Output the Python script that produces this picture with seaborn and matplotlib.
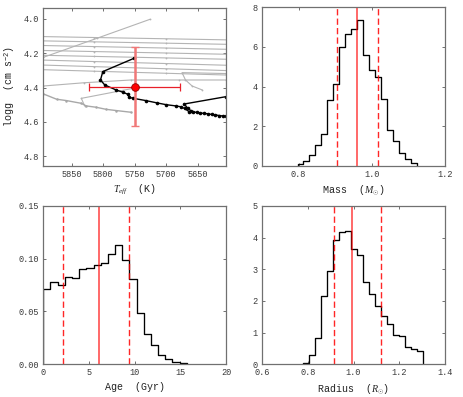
import numpy as np
import pandas as pd
import matplotlib
matplotlib.use("Agg")
import matplotlib.pyplot as plt
import seaborn as sns

# ---------------- data ----------------
# stellar evolution track (black) in Teff / logg
track_teff = [5750.8, 5800.6, 5804.3, 5797.5, 5779.6, 5768, 5761.3, 5758.7, 5753.4, 5732.4,
              5714, 5700, 5685, 5677, 5671, 5664, 5658, 5652, 5646, 5640, 5634, 5628,
              5622, 5616, 5610, 5605]
track_logg = [4.229, 4.307, 4.356, 4.385, 4.414, 4.428, 4.439, 4.457, 4.462, 4.476,
              4.490, 4.500, 4.507, 4.512, 4.522, 4.540, 4.541, 4.545, 4.548, 4.551, 4.553, 4.557,
              4.560, 4.563, 4.566, 4.568]
branch_teff = [5605, 5671.6, 5666, 5660]
branch_logg = [4.453, 4.496, 4.520, 4.538]

# grey tracks
grey_h_left = [4.103, 4.128, 4.155, 4.184, 4.212, 4.240, 4.269, 4.296]
grey_h_right = [4.122, 4.148, 4.177, 4.206, 4.235, 4.270, 4.301, 4.327]
grey_diag_teff = [5895, 5810, 5725.6]
grey_diag_logg = [4.224, 4.113, 4.002]
grey_low_teff = [5895, 5830, 5756, 5680, 5605]
grey_low_logg = [4.391, 4.372, 4.356, 4.356, 4.356]
grey_c_teff = [5605, 5675, 5669.5, 5659, 5643, 5605]
grey_c_logg = [4.200, 4.313, 4.356, 4.391, 4.414, 4.437]
grey_a_teff = [5756, 5779.6, 5795.4, 5811, 5827, 5834.7, 5858.3, 5874, 5895]
grey_a_logg = [4.544, 4.534, 4.527, 4.515, 4.507, 4.492, 4.476, 4.468, 4.437]
grey_b_teff = [5829.4, 5834.7, 5743]
grey_b_logg = [4.507, 4.463, 4.398]

# observed star
star_teff, star_teff_err = 5750, 72
star_logg, star_logg_err = 4.395, 0.23

# mass histogram
mass_range = (0.797, 1.123)
mass_heights = [0.12, 0.24, 0.55, 1.04, 1.61, 3.30, 4.12, 5.98, 6.67, 6.92,
                7.34, 5.58, 4.82, 4.47, 3.38, 1.80, 1.24, 0.64, 0.37, 0.13]
mass_lines = [0.904, 0.959, 1.018]

# age histogram
age_range = (0.0, 15.7)
age_heights = [0.071, 0.078, 0.0755, 0.083, 0.0815, 0.090, 0.0916, 0.094, 0.096, 0.104,
               0.1127, 0.0988, 0.0805, 0.049, 0.0284, 0.018, 0.0085, 0.0054, 0.002, 0.001]
age_lines = [2.18, 6.04, 9.35]

# radius histogram
radius_range = (0.781, 1.302)
radius_heights = [0.04, 0.28, 0.83, 2.15, 2.94, 3.92, 4.17, 4.22, 3.63, 3.44,
                  2.60, 2.23, 1.84, 1.52, 1.26, 0.94, 0.88, 0.53, 0.47, 0.43]
radius_lines = [0.913, 0.995, 1.121]

# ---------------- style ----------------
sns.set_style("ticks")
plt.rcParams.update({
    "font.family": ["Liberation Mono", "DejaVu Sans Mono"],
    "mathtext.fontset": "custom",
    "mathtext.rm": "Liberation Mono",
    "mathtext.it": "Liberation Serif:italic",
    "mathtext.bf": "Liberation Serif:bold",
    "axes.edgecolor": "#707070",
    "axes.linewidth": 0.9,
    "xtick.color": "#707070",
    "ytick.color": "#707070",
    "xtick.labelcolor": "#3a3a3a",
    "ytick.labelcolor": "#3a3a3a",
    "xtick.direction": "in",
    "ytick.direction": "in",
    "xtick.top": True,
    "ytick.right": True,
    "xtick.major.size": 2.5,
    "ytick.major.size": 2.5,
    "xtick.major.width": 0.7,
    "ytick.major.width": 0.7,
    "xtick.major.pad": 3.0,
    "ytick.major.pad": 3.0,
    "xtick.labelsize": 6.2,
    "ytick.labelsize": 6.2,
    "axes.labelsize": 7.2,
    "axes.labelcolor": "#222222",
})

fig = plt.figure(figsize=(4.63, 3.97), dpi=100)
W, H = 0.395, 0.399
ax_hr = fig.add_axes([0.0935, 0.582, W, 0.398])
ax_m = fig.add_axes([0.566, 0.582, W, 0.400])
ax_a = fig.add_axes([0.0935, 0.0824, W, H])
ax_r = fig.add_axes([0.566, 0.0824, W, H])

grey = "#b4b4b4"

# ---- HR panel ----
for l, r in zip(grey_h_left, grey_h_right):
    sns.lineplot(x=[5895, 5815, 5700, 5605], y=[l, l + (r - l) * 0.28, l + (r - l) * 0.67, r],
                 sort=False, ax=ax_hr, color=grey, lw=0.8, marker="o", markersize=1.3,
                 markeredgewidth=0, markevery=[1, 2])
for tx, ty in [(grey_diag_teff, grey_diag_logg), (grey_low_teff, grey_low_logg),
               (grey_c_teff, grey_c_logg), (grey_b_teff, grey_b_logg)]:
    sns.lineplot(x=tx, y=ty, sort=False, ax=ax_hr, color=grey, lw=0.8, marker="o",
                 markersize=1.3, markeredgewidth=0)
sns.lineplot(x=grey_a_teff, y=grey_a_logg, sort=False, ax=ax_hr, color="#a8a8a8", lw=1.0,
             marker="o", markersize=1.8, markeredgewidth=0)

sns.lineplot(x=track_teff, y=track_logg, sort=False, ax=ax_hr, color="black", lw=1.0,
             marker="o", markersize=2.6, markeredgewidth=0)
sns.lineplot(x=branch_teff, y=branch_logg, sort=False, ax=ax_hr, color="black", lw=1.0,
             marker="o", markersize=2.6, markeredgewidth=0)

ax_hr.errorbar([star_teff], [star_logg], yerr=[star_logg_err], fmt="none",
               ecolor="#f07878", elinewidth=1.8, capsize=3, capthick=1.0, zorder=5)
ax_hr.errorbar([star_teff], [star_logg], xerr=[star_teff_err], fmt="none",
               ecolor="#e8202a", elinewidth=0.9, capsize=3, capthick=0.9, zorder=6)
ax_hr.plot([star_teff], [star_logg], "o", color="red", markersize=5.5,
           markeredgecolor="#900000", markeredgewidth=0.6, zorder=7)

ax_hr.set_xlim(5895, 5605)
ax_hr.set_ylim(4.857, 3.936)
ax_hr.set_xticks([5850, 5800, 5750, 5700, 5650])
ax_hr.set_yticks([4.0, 4.2, 4.4, 4.6, 4.8])
ax_hr.set_yticklabels(["4.0", "4.2", "4.4", "4.6", "4.8"])
ax_hr.set_xlabel(r"$T_{eff}$  (K)", labelpad=3)
ax_hr.set_ylabel(r"logg  (cm s$^{-2}$)", labelpad=5)


def step_hist(ax, rng, heights, lines, xlim, ylim, xticks, yticks, xfmt, yfmt, xlabel):
    n = len(heights)
    edges = np.linspace(rng[0], rng[1], n + 1)
    centers = 0.5 * (edges[:-1] + edges[1:])
    df = pd.DataFrame({"x": centers, "w": heights})
    sns.histplot(data=df, x="x", weights="w", bins=list(edges), element="step", fill=False,
                 color="black", lw=0.95, ax=ax, stat="count")
    ax.vlines([edges[0], edges[-1]], 0, [heights[0], heights[-1]], color="black", lw=0.95)
    dash = (0, (4.5, 2.3))
    ax.axvline(lines[0], color="red", lw=1.0, ls=dash, alpha=0.85)
    ax.axvline(lines[1], color="red", lw=1.1, alpha=0.75)
    ax.axvline(lines[2], color="red", lw=1.0, ls=dash, alpha=0.85)
    ax.set_xlim(*xlim)
    ax.set_ylim(*ylim)
    ax.set_xticks(xticks)
    ax.set_yticks(yticks)
    ax.set_xticklabels([xfmt.format(v) for v in xticks])
    ax.set_yticklabels([yfmt.format(v) for v in yticks])
    ax.set_ylabel("")
    ax.set_xlabel(xlabel, labelpad=3)


step_hist(ax_m, mass_range, mass_heights, mass_lines, (0.7, 1.2), (0, 8),
          [0.8, 1.0, 1.2], [0, 2, 4, 6, 8], "{:.1f}", "{:d}", r"Mass  ($M_{\odot}$)")
step_hist(ax_a, age_range, age_heights, age_lines, (0, 20), (0, 0.15),
          [0, 5, 10, 15, 20], [0.0, 0.05, 0.10, 0.15], "{:d}", "{:.2f}", "Age  (Gyr)")
step_hist(ax_r, radius_range, radius_heights, radius_lines, (0.6, 1.4), (0, 5),
          [0.6, 0.8, 1.0, 1.2, 1.4], [0, 1, 2, 3, 4, 5], "{:.1f}", "{:d}", r"Radius  ($R_{\odot}$)")

fig.savefig("out.png", dpi=100)
